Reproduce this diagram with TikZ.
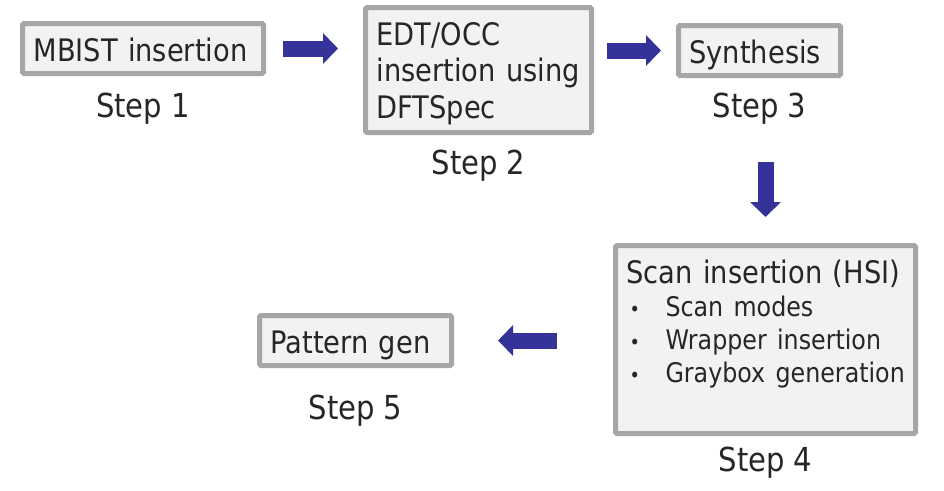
\documentclass[tikz,border=0pt]{standalone}
\usepackage{fontspec}
\setmainfont{DejaVu Sans}[FakeStretch=0.88]
\usepackage{xcolor}
\usetikzlibrary{positioning,arrows.meta}
\definecolor{boxfill}{HTML}{F2F2F2}
\definecolor{boxline}{HTML}{A6A6A6}
\definecolor{flowblue}{HTML}{333399}
\definecolor{txt}{HTML}{262626}
\newcommand{\bulletitem}[1]{\mbox{\fontsize{27}{33.3}\selectfont\makebox[39pt][l]{\hspace{3pt}{\fontsize{20}{20}\selectfont\textbullet}}#1}}

\begin{document}
\begin{tikzpicture}[x=1pt, y=-1pt, text=txt,
  main/.style = {draw=boxline, fill=boxfill, line width=5pt, rounded corners=1.5pt, inner xsep=11pt, inner ysep=0pt, align=left, text height=37.5pt, text depth=12.5pt, font=\fontsize{31}{36.5}\selectfont},
  steplabel/.style = {inner sep=0pt, font=\fontsize{33}{33}\selectfont},
  flow/.style = {draw=flowblue, line width=16pt, -{Triangle[width=30pt,length=15pt]}}]
\useasboundingbox (0,0) rectangle (944,490);
\node[main, text width=219pt] (b1) at (143,48.5) {MBIST insertion};
\node[main, text width=204pt, text depth=87.5pt] (b2) at (478.5,70) {EDT/OCC\\insertion using\\DFTSpec};
\node[main, text width=140pt] (b3) at (759.5,50.5) {Synthesis};
\node[main, text width=278pt, text depth=150.5pt, font=\fontsize{31}{33.3}\selectfont] (b4) at (765.5,339.5) {Scan insertion (HSI)\\\bulletitem{Scan modes}\\\bulletitem{Wrapper insertion}\\\bulletitem{Graybox generation}};
\node[main, text width=170pt] (b5) at (355.5,340.5) {Pattern gen};
\node[steplabel] (s1) [below=17pt of b1] {Step 1};
\node[steplabel] (s2) [below=15pt of b2] {Step 2};
\node[steplabel] (s3) [below=15pt of b3] {Step 3};
\node[steplabel] (s4) [below=11pt of b4] {Step 4};
\node[steplabel] (s5) [below=27pt of b5] {Step 5};
\draw[flow, shorten <=17pt, shorten >=25pt] (b1.east) -- (b1.east -| b2.west);
\draw[flow, shorten <=13pt, shorten >=15pt] (b3.west -| b2.east) -- (b3.west);
\draw[flow, shorten <=84pt, shorten >=26pt] (b4.north |- b3.south) -- (b4.north);
\draw[flow, shorten <=56pt, shorten >=44pt] (b4.west |- b5.east) -- (b5.east);
\end{tikzpicture}
\end{document}
